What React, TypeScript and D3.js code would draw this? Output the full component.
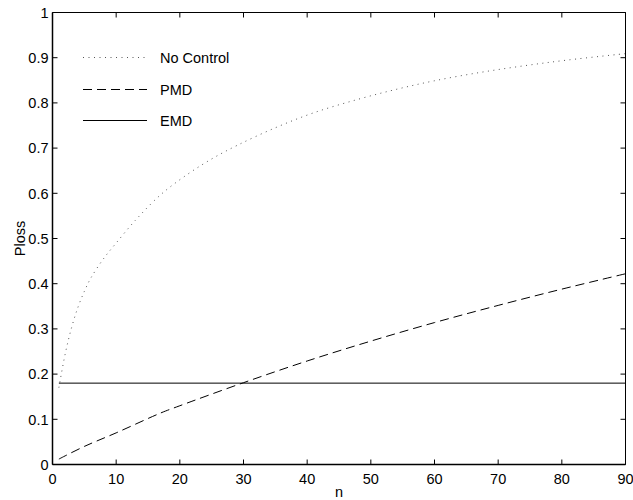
import React from 'react';
import * as d3 from 'd3';

// values
const noControlN = [1, 2, 3, 4, 5, 6, 8, 10, 13, 17, 21, 25, 29, 35, 41, 48, 54, 60, 67, 74, 81, 90];
const noControlP = [0.17, 0.245, 0.303, 0.348, 0.383, 0.412, 0.455, 0.49, 0.54, 0.597, 0.64, 0.676, 0.706, 0.745, 0.778, 0.808, 0.83, 0.849, 0.867, 0.882, 0.895, 0.909];

const pmdN = [1, 5, 10, 17, 20, 30, 40, 50, 60, 70, 80, 90];
const pmdP = [0.012, 0.04, 0.07, 0.114, 0.13, 0.181, 0.229, 0.273, 0.314, 0.352, 0.388, 0.422];

const emdN = [1, 90];
const emdP = [0.18, 0.18];

const xTicks = [0, 10, 20, 30, 40, 50, 60, 70, 80, 90];
const yTicks = [0, 0.1, 0.2, 0.3, 0.4, 0.5, 0.6, 0.7, 0.8, 0.9, 1];

const series = [
  { name: 'No Control', n: noControlN, p: noControlP, dash: '1 4.5', color: '#555' },
  { name: 'PMD', n: pmdN, p: pmdP, dash: '9 5', color: '#000' },
  { name: 'EMD', n: emdN, p: emdP, dash: null, color: '#000' },
];

const W = 633;
const H = 500;
const left = 52.5;
const right = 625.5;
const top = 12.5;
const bottom = 464.5;
const font = 'Liberation Sans, Arial, Helvetica, sans-serif';
const fs = 14.5;

export default function App() {
  const x = d3.scaleLinear().domain([0, 90]).range([left, right]);
  const y = d3.scaleLinear().domain([0, 1]).range([bottom, top]);
  const line = d3.line<[number, number]>()
    .x(d => x(d[0]))
    .y(d => y(d[1]))
    .curve(d3.curveCatmullRom.alpha(0.5));

  const tickLen = 5;

  return (
    <svg width={W} height={H} style={{ position: 'absolute', left: 0, top: 0, background: '#fff' }}>
      <rect x={0} y={0} width={W} height={H} fill="#fff" />

      {series.map(s => (
        <path
          key={s.name}
          d={line(s.n.map((v, i) => [v, s.p[i]] as [number, number])) || ''}
          fill="none"
          stroke={s.color}
          strokeWidth={1}
          strokeDasharray={s.dash || undefined}
        />
      ))}

      {/* box */}
      <line x1={left} x2={right} y1={top} y2={top} stroke="#000" strokeWidth={1} />
      <line x1={right} x2={right} y1={top} y2={bottom} stroke="#000" strokeWidth={1} />
      <line x1={left} x2={right} y1={bottom} y2={bottom} stroke="#000" strokeWidth={1.5} />
      <line x1={left} x2={left} y1={top} y2={bottom} stroke="#000" strokeWidth={1.5} />

      {xTicks.map(t => (
        <g key={'x' + t}>
          <line x1={x(t)} x2={x(t)} y1={bottom} y2={bottom - tickLen} stroke="#000" />
          <line x1={x(t)} x2={x(t)} y1={top} y2={top + tickLen} stroke="#000" />
          <text x={x(t)} y={bottom + 19} textAnchor="middle" fontFamily={font} fontSize={fs}>{t}</text>
        </g>
      ))}

      {yTicks.map(t => (
        <g key={'y' + t}>
          <line x1={left} x2={left + tickLen} y1={y(t)} y2={y(t)} stroke="#000" />
          <line x1={right} x2={right - tickLen} y1={y(t)} y2={y(t)} stroke="#000" />
          <text x={left - 4} y={y(t)} dy="0.36em" textAnchor="end" fontFamily={font} fontSize={fs}>{t}</text>
        </g>
      ))}

      <text x={(left + right) / 2} y={497} textAnchor="middle" fontFamily={font} fontSize={fs}>n</text>
      <text
        transform={`translate(25,${(top + bottom) / 2}) rotate(-90)`}
        textAnchor="middle"
        fontFamily={font}
        fontSize={fs}
      >Ploss</text>

      {/* legend */}
      {series.map((s, i) => {
        const ly = [57.5, 89.5, 120.5][i];
        return (
          <g key={'lg' + s.name}>
            <line x1={83} x2={147} y1={ly} y2={ly} stroke={s.color} strokeWidth={1} strokeDasharray={s.dash || undefined} />
            <text x={160} y={ly} dy="0.36em" fontFamily={font} fontSize={fs}>{s.name}</text>
          </g>
        );
      })}
    </svg>
  );
}
